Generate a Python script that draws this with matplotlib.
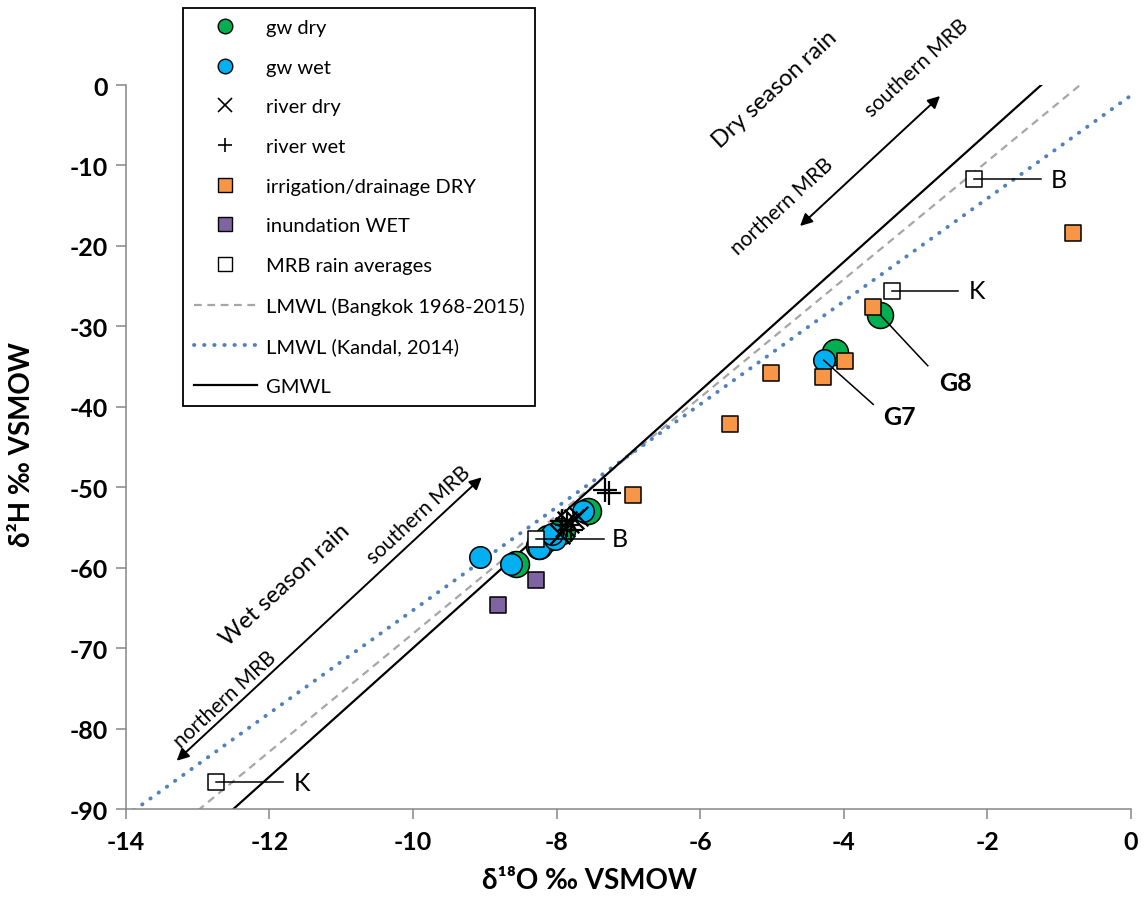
import matplotlib.pyplot as plt
from matplotlib.lines import Line2D
import numpy as np

plt.rcParams['font.family'] = ['Lato', 'DejaVu Sans']
plt.rcParams['axes.unicode_minus'] = False

# ---- data ----
gw_dry_x = [-3.49, -4.12, -7.56, -7.93, -8.12, -8.25, -8.57]
gw_dry_y = [-28.6, -33.2, -52.9, -55.4, -56.3, -57.3, -59.6]
gw_wet_x = [-4.28, -9.07, -8.63, -8.24, -8.02, -8.06, -7.63]
gw_wet_y = [-34.2, -58.7, -59.5, -57.5, -56.4, -55.8, -52.9]
river_dry_x = [-7.95, -7.88, -7.82, -7.76, -7.70, -7.85]
river_dry_y = [-55.8, -55.0, -54.5, -54.0, -53.6, -54.2]
river_wet_x = [-7.32, -7.27, -7.86, -7.80, -7.92]
river_wet_y = [-50.4, -50.7, -54.7, -55.3, -54.2]
irr_x = [-0.81, -3.59, -3.98, -4.29, -5.02, -5.59, -6.94]
irr_y = [-18.4, -27.6, -34.3, -36.3, -35.8, -42.2, -51.0]
inund_x = [-8.29, -8.82]
inund_y = [-61.5, -64.6]
rain_x = [-2.19, -3.33, -8.28, -12.74]
rain_y = [-11.7, -25.6, -56.4, -86.7]
rain_labels = ['B', 'K', 'B', 'K']
rain_label_x = [-1.0, -2.14, -7.12, -11.55]
rain_line_end = [-1.26, -2.41, -7.34, -11.81]

x_ticks = [-14, -12, -10, -8, -6, -4, -2, 0]
y_ticks = [-90, -80, -70, -60, -50, -40, -30, -20, -10, 0]

# meteoric water lines (slope, intercept)
gmwl = (8.0, 10.0)
lmwl_bkk = (7.34, 5.2)
lmwl_kandal = (6.40, -1.3)

GREEN = '#00B050'
BLUE = '#00B0F0'
ORANGE = '#F79646'
PURPLE = '#8064A2'
KANDAL = '#4F81BD'
BKK = '#A6A6A6'

fig = plt.figure(figsize=(11.46, 9.04), dpi=100)
ax = fig.add_axes([125.7 / 1146, 1 - 810 / 904, (1131 - 125.7) / 1146, (810 - 86) / 904])

# ---- water lines ----
xs = np.linspace(-14, 0, 200)
ax.plot(xs, lmwl_bkk[0] * xs + lmwl_bkk[1], color=BKK, lw=1.6,
        dashes=(3.5, 2.5), zorder=1)
ax.plot(xs, lmwl_kandal[0] * xs + lmwl_kandal[1], color=KANDAL, lw=2.8,
        linestyle=(0, (0.1, 2.5)), dash_capstyle='round', zorder=1)
ax.plot(xs, gmwl[0] * xs + gmwl[1], color='black', lw=1.6, zorder=1)

# ---- samples ----
ax.scatter(gw_dry_x, gw_dry_y, s=350, color=GREEN, edgecolor='black', lw=1.1, zorder=3)
ax.scatter(gw_wet_x, gw_wet_y, s=240, color=BLUE, edgecolor='black', lw=1.1, zorder=4)
ax.scatter(river_dry_x, river_dry_y, s=200, marker='x', color='black', lw=1.6, zorder=5)
ax.scatter(river_wet_x, river_wet_y, s=320, marker='+', color='black', lw=1.6, zorder=5)
ax.scatter(irr_x, irr_y, s=125, marker='s', color=ORANGE, edgecolor='black', lw=1.1, zorder=5)
ax.scatter(inund_x, inund_y, s=125, marker='s', color=PURPLE, edgecolor='black', lw=1.1, zorder=5)
ax.scatter(rain_x, rain_y, s=125, marker='s', color='white', edgecolor='black', lw=1.1, zorder=6)

for x, y, lab, lx, le in zip(rain_x, rain_y, rain_labels, rain_label_x, rain_line_end):
    ax.plot([x, le], [y, y], color='black', lw=1.1, zorder=7)
    ax.text(lx, y, lab, fontsize=18, ha='center', va='center', zorder=7)

# G7 / G8 call-outs
ax.plot([gw_dry_x[0], -2.83], [gw_dry_y[0], -34.9], color='black', lw=1.1, zorder=7)
ax.text(-2.45, -37.0, 'G8', fontsize=18, fontweight='bold', ha='center', va='center')
ax.plot([gw_wet_x[0], -3.59], [gw_wet_y[0], -39.7], color='black', lw=1.1, zorder=7)
ax.text(-3.22, -41.2, 'G7', fontsize=18, fontweight='bold', ha='center', va='center')

# ---- season arrows ----
ang = 42.9
arrow_kw = dict(arrowstyle='<|-|>', color='black', lw=1.4, mutation_scale=18,
                shrinkA=0, shrinkB=0)
ax.annotate('', xy=(-9.042, -48.77), xytext=(-13.29, -84.0), arrowprops=arrow_kw,
            annotation_clip=False)
ax.annotate('', xy=(-2.659, -1.37), xytext=(-4.609, -17.53), arrowprops=arrow_kw,
            annotation_clip=False)

txt_kw = dict(rotation=ang, ha='center', va='center', rotation_mode='anchor', clip_on=False)
ax.text(-11.78, -62.0, 'Wet season rain', fontsize=17, **txt_kw)
ax.text(-12.62, -76.3, 'northern MRB', fontsize=15, **txt_kw)
ax.text(-9.92, -53.4, 'southern MRB', fontsize=15, **txt_kw)
ax.text(-4.96, -0.50, 'Dry season rain', fontsize=17, **txt_kw)
ax.text(-4.86, -15.0, 'northern MRB', fontsize=15, **txt_kw)
ax.text(-2.98, 2.2, 'southern MRB', fontsize=15, **txt_kw)

# ---- axes ----
ax.set_xlim(-14, 0)
ax.set_ylim(-90, 0)
ax.set_xticks(x_ticks, labels=[str(v) for v in x_ticks], fontweight='bold', fontsize=18)
ax.set_yticks(y_ticks, labels=[str(v) for v in y_ticks], fontweight='bold', fontsize=18)
for s in ['top', 'right']:
    ax.spines[s].set_visible(False)
for s in ['left', 'bottom']:
    ax.spines[s].set_color('#868686')
    ax.spines[s].set_linewidth(1.1)
ax.tick_params(direction='out', length=7, width=1.1, color='#868686')
ax.tick_params(axis='x', pad=8)
ax.tick_params(axis='y', pad=6)

fig.text(590 / 1146, 1 - 881 / 904, 'δ¹⁸O ‰ VSMOW', fontsize=20, fontweight='bold',
         ha='center', va='center')
fig.text(22 / 1146, 1 - 445 / 904, 'δ²H ‰ VSMOW', fontsize=20, fontweight='bold',
         ha='center', va='center', rotation=90)

# ---- legend ----
handles = [
    Line2D([], [], ls='none', marker='o', ms=10.5, mfc=GREEN, mec='black', mew=1),
    Line2D([], [], ls='none', marker='o', ms=10.5, mfc=BLUE, mec='black', mew=1),
    Line2D([], [], ls='none', marker='x', ms=9.5, color='black', mew=1.2),
    Line2D([], [], ls='none', marker='+', ms=10.5, color='black', mew=1.2),
    Line2D([], [], ls='none', marker='s', ms=9.5, mfc=ORANGE, mec='black', mew=1),
    Line2D([], [], ls='none', marker='s', ms=9.5, mfc=PURPLE, mec='black', mew=1),
    Line2D([], [], ls='none', marker='s', ms=9.5, mfc='white', mec='black', mew=1),
    Line2D([], [], color=BKK, lw=1.6, dashes=(3.5, 2.5)),
    Line2D([], [], color=KANDAL, lw=2.8, linestyle=(0, (0.1, 2.5)), dash_capstyle='round'),
    Line2D([], [], color='black', lw=1.6),
]
labels = ['gw dry', 'gw wet', 'river dry', 'river wet', 'irrigation/drainage DRY',
          'inundation WET', 'MRB rain averages', 'LMWL (Bangkok 1968-2015)',
          'LMWL (Kandal, 2014)', 'GMWL']
leg = fig.legend(handles, labels, loc='upper left', bbox_to_anchor=(183 / 1146, 1 - 9 / 904),
                 prop={'size': 14.5}, frameon=True, fancybox=False, framealpha=1,
                 edgecolor='black', handlelength=3.1, handletextpad=0.45,
                 labelspacing=1.12, borderpad=0.55, borderaxespad=0)
leg.get_frame().set_linewidth(1.3)

fig.savefig('out.png', dpi=100)
